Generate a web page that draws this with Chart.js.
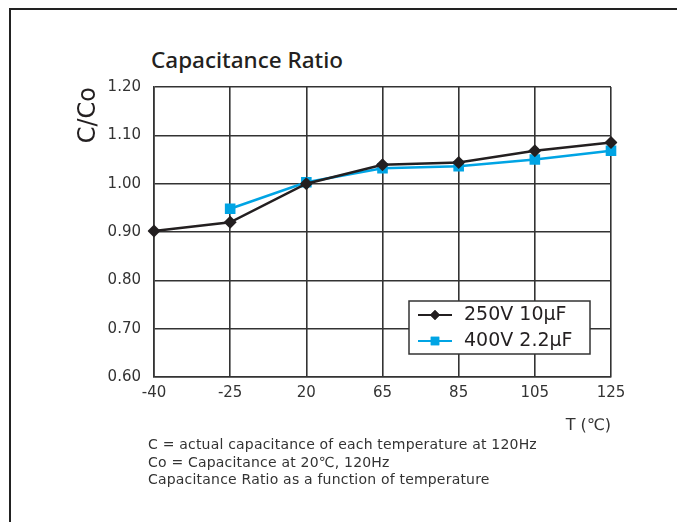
<!DOCTYPE html>
<html>
<head>
<meta charset="utf-8">
<script src="https://cdn.jsdelivr.net/npm/chart.js@4.4.0/dist/chart.umd.min.js"></script>
<style>
  body { margin: 0; background: #fff; }
  #wrap { position: relative; width: 677px; height: 522px; overflow: hidden; }
  #frame { position: absolute; left: 9px; top: 8px; width: 700px; height: 600px;
           border-top: 2.5px solid #222; border-left: 2.5px solid #222; }
  #title { position: absolute; left: 151px; top: 44px; font: 500 22.5px "Noto Sans"; color: #231f20; }
  #notes { position: absolute; left: 148px; top: 436px; font: 14px "DejaVu Sans"; color: #333;
           line-height: 17.5px; letter-spacing: 0.2px; }
  canvas { position: absolute; left: 0; top: 0; }
</style>
</head>
<body>
<div id="wrap">
  <div id="frame"></div>
  <div id="title">Capacitance Ratio</div>
  <canvas id="mycanvas" width="677" height="522"></canvas>
  <div id="notes">
    C = actual capacitance of each temperature at 120Hz<br>
    Co = Capacitance at 20℃, 120Hz<br>
    Capacitance Ratio as a function of temperature
  </div>
</div>
<script>
var temps = ['-40', '-25', '20', '65', '85', '105', '125'];
var cap250 = [0.902, 0.920, 1.000, 1.039, 1.044, 1.068, 1.085];
var cap400 = [null, 0.948, 1.003, 1.032, 1.036, 1.050, 1.068];
var seriesNames = ['250V 10μF', '400V 2.2μF'];

var gridColor = '#333';

// legend box inside the plot, drawn by hand
var boxLegend = {
  id: 'boxLegend',
  afterDraw: function(chart) {
    var ctx = chart.ctx;
    var x = 409, y = 301, w = 181, h = 53;
    ctx.save();
    ctx.fillStyle = '#fff';
    ctx.fillRect(x, y, w, h);
    ctx.strokeStyle = '#333';
    ctx.lineWidth = 1.5;
    ctx.strokeRect(x, y, w, h);
    chart.data.datasets.forEach(function(ds, i) {
      var cy = y + 14 + i * 26;
      ctx.strokeStyle = ds.borderColor;
      ctx.lineWidth = 2;
      ctx.beginPath();
      ctx.moveTo(418, cy);
      ctx.lineTo(452, cy);
      ctx.stroke();
      ctx.fillStyle = ds.borderColor;
      Chart.helpers.drawPoint(ctx, { pointStyle: ds.pointStyle, radius: i == 0 ? 5 : 6, rotation: 0, borderWidth: 0 }, 435, cy);
      ctx.fill();
      ctx.fillStyle = '#231f20';
      ctx.font = '19px "DejaVu Sans"';
      ctx.textBaseline = 'middle';
      ctx.fillText(ds.label, 464, cy);
    });
    ctx.restore();
  }
};

var ctx = document.getElementById('mycanvas');
var chart = new Chart(ctx, {
  type: 'line',
  data: {
    labels: temps,
    datasets: [
      {
        label: seriesNames[0],
        data: cap250,
        borderColor: '#231f20',
        backgroundColor: '#231f20',
        borderWidth: 2.5,
        pointStyle: 'rectRot',
        pointRadius: 6.5,
        pointBorderWidth: 0
      },
      {
        label: seriesNames[1],
        data: cap400,
        borderColor: '#00a4e4',
        backgroundColor: '#00a4e4',
        borderWidth: 2.5,
        pointStyle: 'rect',
        pointRadius: 7.5,
        pointBorderWidth: 0
      }
    ]
  },
  options: {
    responsive: false,
    animation: false,
    layout: { padding: { left: 70, top: 87, right: 66, bottom: 85 } },
    plugins: { legend: { display: false }, tooltip: { enabled: false } },
    scales: {
      x: {
        offset: false,
        afterFit: function(s) { s.height = 60; },
        grid: { color: gridColor, lineWidth: 1.6, drawTicks: false },
        border: { color: gridColor, width: 1.6 },
        ticks: { color: '#333', font: { family: 'DejaVu Sans', size: 15 }, padding: 7, maxRotation: 0 },
        title: { display: true, text: 'T (℃)', align: 'end', color: '#333',
                 font: { family: 'DejaVu Sans', size: 16 }, padding: { top: 0, bottom: 2 } }
      },
      y: {
        min: 0.6,
        max: 1.2,
        afterFit: function(s) { s.width = 84; },
        grid: { color: gridColor, lineWidth: 1.6, drawTicks: false },
        border: { color: gridColor, width: 1.6 },
        ticks: { stepSize: 0.1, color: '#333', padding: 13,
                 font: { family: 'DejaVu Sans', size: 15 },
                 callback: function(v) { return v.toFixed(2); } },
        title: { display: true, text: 'C/Co', align: 'end', color: '#231f20',
                 font: { family: 'DejaVu Sans', size: 24 }, padding: { top: 4, bottom: 0 } }
      }
    }
  },
  plugins: [boxLegend]
});
</script>
</body>
</html>
